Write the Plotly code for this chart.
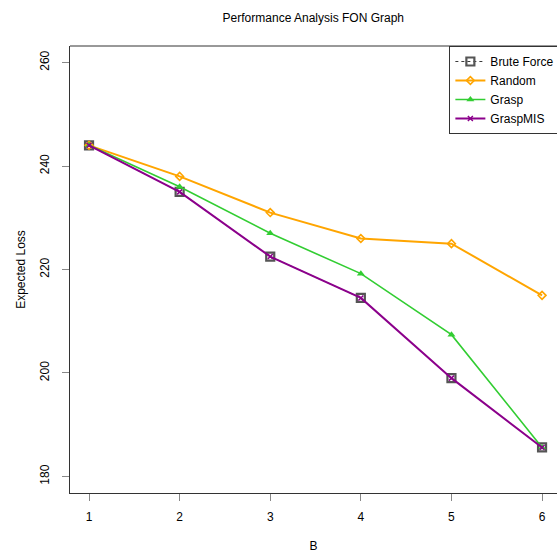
import plotly.graph_objects as go

B = [1, 2, 3, 4, 5, 6]
brute_force = [244, 235, 222.5, 214.5, 199, 185.6]
random_alg = [244, 238, 231, 226, 225, 215]
grasp = [244, 236, 227, 219.2, 207.4, 185.6]
grasp_mis = [244, 235, 222.5, 214.5, 199, 185.6]
y_ticks = [180, 200, 220, 240, 260]
x_ticks = [1, 2, 3, 4, 5, 6]

FONT = "Liberation Sans, Arial, sans-serif"

fig = go.Figure()
fig.add_trace(go.Scatter(
    x=B, y=brute_force, name="Brute Force", mode="lines+markers",
    line=dict(color="#3a3a3a", width=1, dash="3px,3px"),
    marker=dict(symbol="square-open", size=8, color="#555555", line=dict(width=2.2, color="#555555"))))
fig.add_trace(go.Scatter(
    x=B, y=random_alg, name="Random", mode="lines+markers",
    line=dict(color="#FFA500", width=2),
    marker=dict(symbol="diamond-open", size=6, color="#FFA500", line=dict(width=1.6, color="#FFA500"))))
fig.add_trace(go.Scatter(
    x=B, y=grasp, name="Grasp", mode="lines+markers",
    line=dict(color="#32CD32", width=1.6),
    marker=dict(symbol="triangle-up", size=7, color="#32CD32")))
fig.add_trace(go.Scatter(
    x=B, y=grasp_mis, name="GraspMIS", mode="lines+markers",
    line=dict(color="#8B008B", width=2),
    marker=dict(symbol="x-thin-open", size=5, color="#8B008B", line=dict(width=1.5, color="#8B008B"))))

fig.update_layout(
    width=557, height=553,
    margin=dict(l=70, r=0, t=46, b=60, autoexpand=False),
    paper_bgcolor="white", plot_bgcolor="white",
    font=dict(family=FONT, size=12, color="black"),
    title=dict(text="Performance Analysis FON Graph", x=0.5625, xanchor="center",
               y=1 - 18 / 553, yanchor="middle", font=dict(size=12, color="black")),
    showlegend=True,
    legend=dict(x=0.779, y=1, xanchor="left", yanchor="top",
                bgcolor="white", bordercolor="#333333", borderwidth=1,
                font=dict(size=12, color="black"), tracegroupgap=0, itemwidth=30),
)
fig.update_xaxes(range=[0.79, 6.165], tickvals=x_ticks, ticktext=[str(v) for v in x_ticks],
                 showgrid=False, zeroline=False, showline=True, linecolor="#333333", linewidth=1,
                 ticks="outside", ticklen=7, tickcolor="#888888", tickwidth=1,
                 ticklabelstandoff=6,
                 title=dict(text="B", standoff=20, font=dict(size=12)), automargin=False)
fig.update_yaxes(range=[176.8, 263.2], tickvals=y_ticks, ticktext=[str(v) for v in y_ticks],
                 tickangle=-90,
                 showgrid=False, zeroline=False, showline=True, linecolor="#333333", linewidth=1,
                 ticks="outside", ticklen=7, tickcolor="#888888", tickwidth=1,
                 ticklabelstandoff=8,
                 title=dict(text="Expected Loss", standoff=10, font=dict(size=12, color="black")),
                 automargin=False)
fig.add_shape(type="line", xref="paper", yref="paper", x0=0, x1=1, y0=1, y1=1,
              line=dict(color="#333333", width=1))

fig.write_html("out.html")
